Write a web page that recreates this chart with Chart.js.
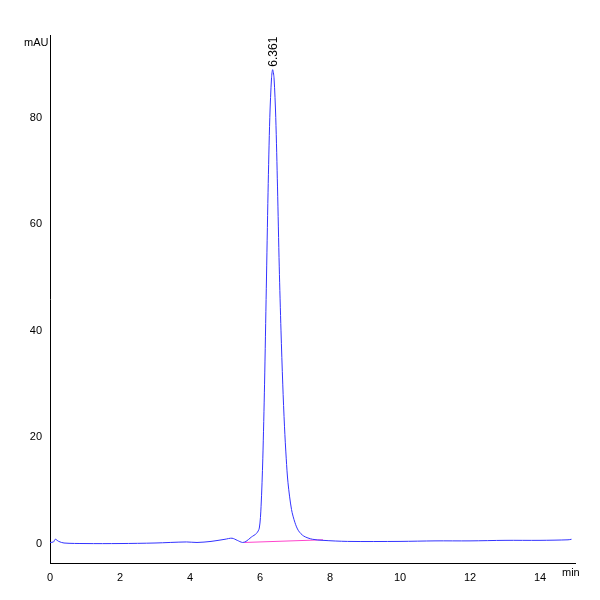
<!DOCTYPE html><html><head><script src="https://cdn.jsdelivr.net/npm/chart.js@4"></script>
<style>body{margin:0;background:#fff}</style></head><body><canvas id="c" width="600" height="600"></canvas>
<script>
const times=[0,0.1,0.15,0.25,0.4,1,2,3,3.9,4.2,4.6,5,5.2,5.35,5.5,5.6,5.75,5.9,5.98,6.03,6.08,6.13,6.18,6.23,6.28,6.33,6.361,6.4,6.45,6.5,6.55,6.6,6.65,6.7,6.75,6.8,6.9,7.0,7.1,7.25,7.5,7.8,8.5,10,11,12,13,14,14.8,14.9];
const signal=[0.3,0.4,0.9,0.5,0.2,0.1,0.1,0.2,0.4,0.3,0.5,0.9,1.1,0.7,0.3,0.5,1.3,2,3,7,16,30,48,66,80,87.5,89,87.5,80,67,52,40,30,22,16,11.5,6.5,4,2.5,1.5,0.9,0.7,0.5,0.5,0.6,0.6,0.7,0.7,0.8,0.9];
const baseX=[5.55,7.8], baseY=[0.3,0.8];
const peakLabel={x:6.361,y:89,text:'6.361'};
const xTickLabels=['0','2','4','6','8','10','12','14'];
const deco={id:'deco',afterDraw(ch){const c=ch.ctx,x=ch.scales.x,y=ch.scales.y;c.save();c.fillStyle='#000';c.font='11px "Liberation Sans", Arial';
c.fillText('mAU',24,46);c.fillText('min',562,576);
c.translate(x.getPixelForValue(peakLabel.x)+4,y.getPixelForValue(peakLabel.y)-3);c.rotate(-Math.PI/2);c.textAlign='left';c.font='12px "Liberation Sans", Arial';c.fillText(peakLabel.text,0,0);c.restore();}};
new Chart(document.getElementById('c'),{type:'line',data:{datasets:[
{data:times.map((t,i)=>({x:t,y:signal[i]})),borderColor:'#3333ff',borderWidth:1,pointRadius:0,tension:0.3},
{data:baseX.map((t,i)=>({x:t,y:baseY[i]})),borderColor:'#ff44cc',borderWidth:1,pointRadius:0}]},
options:{animation:false,responsive:false,devicePixelRatio:1,plugins:{legend:{display:false},tooltip:{enabled:false}},
layout:{padding:{left:10,right:25,top:35,bottom:12}},
scales:{x:{type:'linear',min:0,max:15,border:{color:'#000'},grid:{display:false,drawTicks:true,tickLength:5,tickColor:'#000'},
ticks:{stepSize:0.5,autoSkip:false,maxRotation:0,color:'#000',font:{size:11},callback:v=>xTickLabels.includes(String(v))?String(v):''}},
y:{min:-3.7,max:95.5,border:{color:'#000'},grid:{display:false,drawTicks:true,tickLength:5,tickColor:'#000'},
ticks:{stepSize:5,autoSkip:false,color:'#000',font:{size:11},callback:v=>(v%20===0)?String(v):''},afterFit(s){s.width=40}}}},
plugins:[deco]});
</script></body></html>
